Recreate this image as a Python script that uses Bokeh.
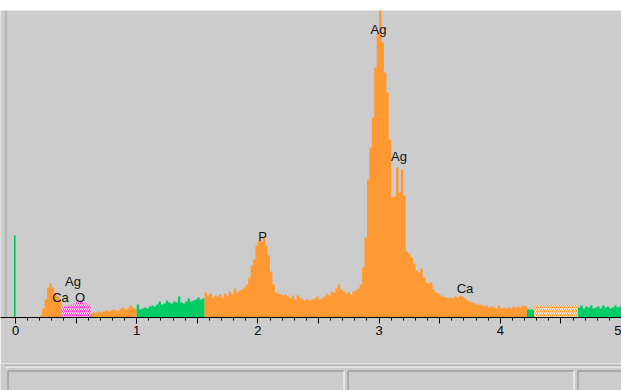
import numpy as np
from bokeh.plotting import figure
from bokeh.models import Range1d, FixedTicker, Span
from bokeh.layouts import column
from bokeh.embed import file_html
from bokeh.resources import INLINE
from bokeh.core.properties import value

# ---------------- data ----------------
channel_kev = 0.02  # width of one spectrum channel (keV)

# counts per 0.02 keV channel, 0 .. 5 keV (250 channels)
counts = [
    0, 0, 0, 0, 0, 0, 0, 0, 0, 0,
    2, 9, 18, 30, 34, 30, 25, 21, 17, 10,
    11, 11, 12, 13, 14, 15, 17, 15, 14, 14,
    12, 4, 5, 5, 6, 5, 6, 7, 6, 7,
    8, 7, 7, 9, 10, 8, 9, 12, 10, 9,
    13, 8, 9, 10, 9, 11, 12, 11, 13, 16,
    13, 14, 17, 15, 14, 16, 15, 21, 15, 14,
    16, 19, 16, 17, 18, 20, 18, 19, 25, 22,
    24, 20, 22, 21, 23, 20, 24, 22, 26, 23,
    29, 25, 27, 28, 30, 33, 40, 52, 58, 72,
    77, 76, 80, 72, 62, 46, 33, 25, 24, 23,
    22, 23, 21, 19, 22, 18, 22, 20, 18, 17,
    18, 17, 18, 19, 21, 18, 19, 21, 24, 22,
    26, 25, 29, 33, 28, 26, 24, 25, 23, 26,
    27, 29, 33, 50, 80, 138, 170, 200, 250, 285,
    320, 275, 245, 225, 178, 120, 121, 150, 125, 148,
    122, 66, 64, 60, 54, 47, 45, 49, 40, 35,
    34, 35, 28, 25, 24, 22, 21, 20, 19, 20,
    19, 21, 20, 22, 21, 19, 17, 16, 15, 14,
    13, 13, 12, 11, 12, 10, 11, 10, 9, 12,
    9, 10, 9, 10, 9, 11, 10, 11, 10, 12,
    11, 8, 8, 8, 12, 13, 11, 12, 10, 12,
    11, 13, 12, 11, 12, 10, 11, 13, 12, 11,
    12, 13, 10, 12, 9, 11, 10, 12, 9, 10,
    11, 9, 12, 10, 11, 9, 10, 12, 10, 11,
]

zero_peak_kev = 0.0
zero_peak_counts = 82

# regions of the spectrum and how each one is shown
roi_start = [0.00, 0.38, 0.62, 1.00, 1.56, 4.22, 4.28, 4.64]
roi_end = [0.38, 0.62, 1.00, 1.56, 4.22, 4.28, 4.64, 5.00]
roi_kind = ["peak", "oxygen", "peak", "window", "peak", "window", "marked", "window"]

# element line labels
label_text = ["Ag", "Ag", "P", "Ca", "Ag", "Ca", "O"]
label_kev = [2.995, 3.164, 2.038, 3.709, 0.474, 0.371, 0.532]
label_counts = [288, 161, 81, 29, 36, 20, 20]

tick_values = [0.0, 0.5, 1.0, 1.5, 2.0, 2.5, 3.0, 3.5, 4.0, 4.5, 5.0]
tick_labels = ["0", "", "1", "", "2", "", "3", "", "4", "", "5"]
minor_values = [round(0.1 * i, 1) for i in range(51)]

# ---------------- styles ----------------
ORANGE = "#FF9933"
GREEN = "#00CC66"
PINK = "#FF33CC"
BG = "#CCCCCC"
styles = {
    "peak": dict(fill_color=ORANGE),
    "window": dict(fill_color=GREEN),
    "oxygen": dict(fill_color=PINK, hatch_pattern="/", hatch_color="white",
                   hatch_scale=4, hatch_weight=1),
    "marked": dict(fill_color=ORANGE, hatch_pattern="/", hatch_color="white",
                   hatch_scale=4, hatch_weight=1),
}

W = 621

# white strip with window edge above the spectrum panel
t = figure(width=W, height=10, x_range=Range1d(0, W), y_range=Range1d(10, 0),
           output_backend="svg", toolbar_location=None,
           x_axis_location=None, y_axis_location=None, min_border=0,
           background_fill_color="white", border_fill_color="white",
           outline_line_color=None)
t.grid.visible = False
t.segment(x0=[5], y0=[8.5], x1=[W], y1=[8.5], line_color="#A0A0A0", line_width=1)
t.segment(x0=[5.5], y0=[8.5], x1=[5.5], y1=[10], line_color="#A0A0A0", line_width=1)
t.segment(x0=[6], y0=[9.5], x1=[W], y1=[9.5], line_color="#E8E8E8", line_width=1)

p = figure(width=W, height=353,
           x_range=Range1d(-15 / 121.2, 5.0), y_range=Range1d(0, 307),
           output_backend="svg", toolbar_location=None,
           y_axis_location=None,
           min_border_left=0, min_border_right=0,
           min_border_top=0, min_border_bottom=46,
           background_fill_color=BG, border_fill_color=BG,
           outline_line_color=None)
p.grid.visible = False

cnt = np.array(counts, dtype=float)
edges = np.arange(len(counts) + 1) * channel_kev

for s0, s1, kind in zip(roi_start, roi_end, roi_kind):
    i0 = int(round(s0 / channel_kev))
    i1 = int(round(s1 / channel_kev))
    xs = edges[i0:i1 + 1]
    ys = np.append(cnt[i0:i1], cnt[i1 - 1])
    p.varea_step(x=xs, y1=np.zeros_like(ys), y2=ys, step_mode="after",
                 **styles[kind])

p.vbar(x=[zero_peak_kev - 0.006], top=[zero_peak_counts], bottom=0, width=0.014,
       fill_color=GREEN, line_color=None)

p.text(x=label_kev, y=label_counts, text=label_text,
       text_align="center", text_baseline="alphabetic",
       text_font=value("Liberation Sans"), text_font_size="13px",
       text_color="#111111")

# left window edge
p.add_layout(Span(location=-9.5 / 121.2, dimension="height",
                  line_color="#A0A0A0", line_width=1))

ax = p.xaxis[0]
ax.ticker = FixedTicker(ticks=tick_values, minor_ticks=minor_values)
ax.major_label_overrides = {v: l for v, l in zip(tick_values, tick_labels)}
ax.axis_line_color = "black"
ax.major_tick_line_color = "black"
ax.minor_tick_line_color = "black"
ax.major_tick_in = 0
ax.major_tick_out = 6
ax.minor_tick_in = 0
ax.minor_tick_out = 3
ax.major_label_standoff = 2
ax.major_label_text_font = "Liberation Sans"
ax.major_label_text_font_size = "13px"
ax.major_label_text_color = "black"

# status bar below the spectrum panel
s = figure(width=W, height=27, x_range=Range1d(0, W), y_range=Range1d(27, 0),
           output_backend="svg", toolbar_location=None,
           x_axis_location=None, y_axis_location=None, min_border=0,
           background_fill_color=BG, border_fill_color=BG, outline_line_color=None)
s.grid.visible = False
s.segment(x0=[5.5], y0=[0], x1=[5.5], y1=[2], line_color="#A0A0A0")
s.segment(x0=[5], y0=[2.5], x1=[W], y1=[2.5], line_color="#A0A0A0", line_width=1)
s.segment(x0=[5], y0=[3.5], x1=[W], y1=[3.5], line_color="white", line_width=1)
box_l = [7.5, 347.5, 577.5]
box_r = [343.5, 573.5, 700]
s.segment(x0=box_l, y0=[7.5] * 3, x1=box_r, y1=[7.5] * 3, line_color="#888888")
s.segment(x0=box_l, y0=[7.5] * 3, x1=box_l, y1=[30] * 3, line_color="#888888")
s.segment(x0=box_r, y0=[7.5] * 3, x1=box_r, y1=[30] * 3, line_color="white")

layout = column(t, p, s, spacing=0)
open("out.html", "w").write(file_html(layout, INLINE))
